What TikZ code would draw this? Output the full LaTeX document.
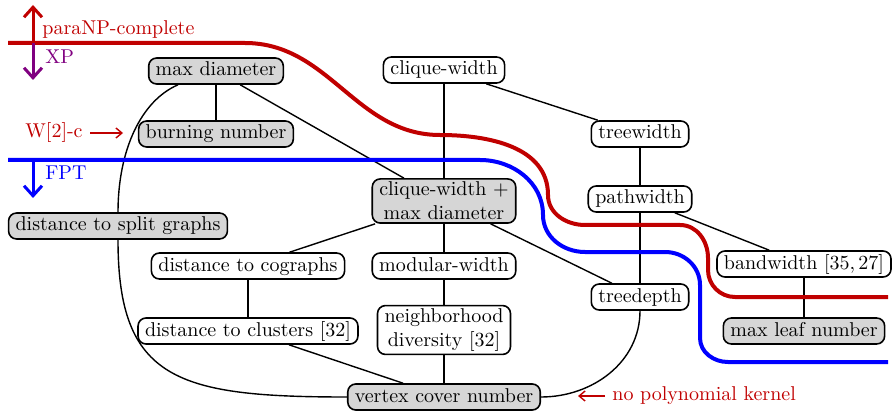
\documentclass[tikz,border=0pt]{standalone}
\usetikzlibrary{arrows.meta,backgrounds}
\definecolor{myred}{RGB}{192,0,0}
\definecolor{mypurple}{RGB}{128,0,128}
\definecolor{myblue}{RGB}{0,0,255}
\begin{document}
\begin{tikzpicture}[x=0.5pt,y=-0.5pt,
 param/.style={draw,line width=0.8pt,rounded corners=4pt,fill=white,inner xsep=3.5pt,inner ysep=2pt,text height=7pt,text depth=2pt,align=center},
 hard/.style={param,fill=black!16},
 multi/.style={text height=,text depth=,inner ysep=1.5pt},
 edge/.style={line width=0.7pt},
 border/.style={line width=2pt},
 bigarrow/.style={line width=1.5pt,-{Straight Barb[length=5pt,width=9pt]}},
 smallarrow/.style={myred,line width=0.7pt,-{Straight Barb[length=3pt,width=5pt]}},
 lbl/.style={anchor=west,inner sep=0pt}]
\useasboundingbox (0,0) rectangle (893,411);

% nodes
\node[hard] (md) at (216,71) {max diameter};
\node[hard] (bn) at (216,134) {burning number};
\node[param] (cw) at (444,70) {clique-width};
\node[param] (tw) at (640,134) {treewidth};
\node[param] (pw) at (640,199) {pathwidth};
\node[hard,multi] (cwmd) at (444,201) {clique-width +\\max diameter};
\node[hard] (dsg) at (118,226) {distance to split graphs};
\node[param] (dco) at (248,266) {distance to cographs};
\node[param] (mw) at (444,266) {modular-width};
\node[param] (td) at (640,297) {treedepth};
\node[param] (bw) at (804,264) {bandwidth $[35,27]$};
\node[hard] (ml) at (804,331) {max leaf number};
\node[param] (dcl) at (248,331) {distance to clusters [32]};
\node[param,multi] (nd) at (444,330) {neighborhood\\diversity [32]};
\node[hard] (vc) at (444,397) {vertex cover number};

% edges
\begin{scope}[on background layer]
\draw[edge] (md) -- (bn);
\draw[edge] (md) -- (cwmd);
\draw[edge] ([xshift=-19pt]md.south) .. controls +(-37,16) and +(0,-62) .. (dsg.north);
\draw[edge] (dsg.south) .. controls +(0,140) and +(-170,0) .. (vc.west);
\draw[edge] (cw) -- (cwmd);
\draw[edge] (cw) -- (tw);
\draw[edge] (tw) -- (pw);
\draw[edge] (pw) -- (bw);
\draw[edge] (pw) -- (td);
\draw[edge] (bw) -- (ml);
\draw[edge] (cwmd) -- (dco);
\draw[edge] (cwmd) -- (mw);
\draw[edge] (cwmd) -- (td);
\draw[edge] (dco) -- (dcl);
\draw[edge] (dcl) -- (vc);
\draw[edge] (mw) -- (nd);
\draw[edge] (nd) -- (vc);
\draw[edge] (td.south) to[out=-90,in=0] (vc.east);
\end{scope}

% complexity borders
\draw[border,myred] (8,43) -- (245,43) to[out=0,in=180] (440,135)
  to[out=0,in=90] (548,195) to[out=-90,in=180] (585,225) -- (680,225)
  to[out=0,in=90] (708,258) -- (708,270) to[out=-90,in=180] (735,297) -- (888,297);
\draw[border,myblue] (8,160) -- (480,160) to[out=0,in=90] (543,215)
  to[out=-90,in=180] (585,252) -- (665,252) to[out=0,in=90] (700,285)
  -- (700,338) to[out=-90,in=180] (728,362) -- (888,362);

% labels and arrows
\coordinate (rp) at (33,43);
\coordinate (bp) at (33,160);
\draw[bigarrow,myred] (rp) -- (33,5);
\draw[bigarrow,mypurple] (rp) -- (33,80);
\draw[bigarrow,myblue] (bp) -- (33,198);
\node[lbl,text=myred] (pnp) at (42,30) {paraNP-complete};
\node[lbl,text=mypurple] (xp) at (45,57) {XP};
\node[lbl,text=myblue] (fpt) at (45,173) {FPT};
\node[lbl,text=myred] (w2) at (25,133) {W[2]-c};
\node[lbl,text=myred] (npk) at (612,396) {no polynomial kernel};
\draw[smallarrow] ([xshift=3.5pt]w2.east) -- ([xshift=20pt]w2.east);
\draw[smallarrow] ([xshift=-3.5pt]npk.west) -- ([xshift=-17pt]npk.west);
\end{tikzpicture}
\end{document}
